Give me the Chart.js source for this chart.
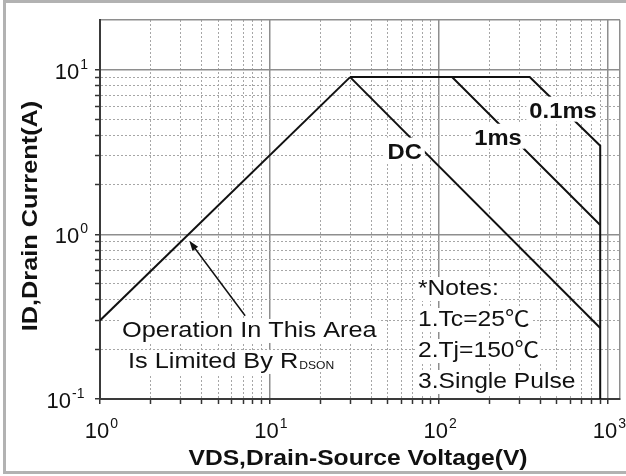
<!DOCTYPE html>
<html>
<head>
<meta charset="utf-8">
<script src="https://cdn.jsdelivr.net/npm/chart.js@4/dist/chart.umd.min.js"></script>
<style>
  html, body { margin: 0; padding: 0; background: #fff; }
  #wrap { position: relative; width: 626px; height: 476px; }
  #frame {
    position: absolute; left: 3px; top: 0; width: 623px; height: 474px; box-sizing: border-box;
    border-top: 3px solid #b2b2b2; border-left: 3px solid #b2b2b2; border-bottom: 3px solid #b2b2b2;
  }
  canvas { position: absolute; left: 0; top: 0; }
</style>
</head>
<body>
<div id="wrap">
  <div id="frame"></div>
  <canvas id="soa" width="626" height="476"></canvas>
</div>
<script>
// safe operating area, log-log; VDS in V, ID in A
const rdsonVds = [1, 30];
const rdsonId = [0.3, 9];
const dcVds = [30, 900];
const dcId = [9, 0.27];
const ms1Vds = [30, 120, 900];
const ms1Id = [9, 9, 1.14];
const ms01Vds = [30, 345, 900, 900];
const ms01Id = [9, 9, 3.45, 0.1];

const xRange = [1, 1178];
const yRange = [0.1, 20];
const xTickExps = [0, 1, 2, 3];
const yTickExps = [-1, 0, 1];

const curveLabels = [
  { text: "DC", vds: 63, id: 3.22 },
  { text: "1ms", vds: 224, id: 3.91 },
  { text: "0.1ms", vds: 543, id: 5.71 },
];
const areaNote = ["Operation In This Area", "Is Limited By R"];
const areaNoteSub = "DSON";
const areaNoteAt = { vds: 1.35, id: 0.238 };
const arrowTail = { vds: 7.2, id: 0.32 };
const arrowHead = { vds: 3.37, id: 0.913 };
const notes = ["*Notes:", "1.Tc=25\u2103", "2.Tj=150\u2103", "3.Single Pulse"];
const notesAt = { vds: 75.5, id: 0.428 };

const FONT = "'Liberation Sans', Arial, 'Noto Sans CJK SC', sans-serif";
const pts = (xs, ys) => xs.map((v, i) => ({ x: v, y: ys[i] }));
const isDecade = (v) => Math.abs(Math.log10(v) - Math.round(Math.log10(v))) < 1e-9;
const isMajor = (c) => c.tick && (isDecade(c.tick.value) || c.tick.value === c.scale.max);

function keepWholeTicks(scale) {
  scale.ticks = scale.ticks.filter((t) => {
    const m = t.value / Math.pow(10, Math.floor(Math.log10(t.value) + 1e-9));
    return Math.abs(m - Math.round(m)) < 1e-6 || t.value === scale.max;
  });
}

function text(ctx, str, x, y, opt) {
  ctx.font = opt.font;
  const sx = opt.sx || 1;
  const w = ctx.measureText(str).width * sx;
  const left = opt.align === "center" ? x - w / 2 : opt.align === "right" ? x - w : x;
  if (opt.box) {
    ctx.fillStyle = "#fff";
    ctx.fillRect(left - opt.box[0], y - opt.box[1], w + 2 * opt.box[0], opt.box[1] + opt.box[2]);
  }
  ctx.save();
  ctx.translate(left, y);
  ctx.scale(sx, 1);
  ctx.fillStyle = "#111";
  ctx.textAlign = "left";
  ctx.textBaseline = "alphabetic";
  ctx.fillText(str, 0, 0);
  ctx.restore();
  return w;
}

function powerLabel(ctx, exp, x, y, align) {
  const base = "22px " + FONT, sup = "14px " + FONT;
  ctx.font = base;
  const w1 = ctx.measureText("10").width;
  ctx.font = sup;
  const w2 = ctx.measureText(String(exp).replace("-", "\u2212")).width;
  const left = align === "center" ? x - (w1 + w2) / 2 : x - (w1 + w2);
  text(ctx, "10", left, y, { font: base });
  text(ctx, String(exp).replace("-", "-"), left + w1 + 1, y - 10, { font: sup });
}

const annotate = {
  id: "annotate",
  afterDatasetsDraw(chart) {
    const { ctx, scales: { x, y } } = chart;
    ctx.save();

    curveLabels.forEach((l) => {
      text(ctx, l.text, x.getPixelForValue(l.vds), y.getPixelForValue(l.id) + 8,
        { font: "bold 22px " + FONT, sx: 1.08, align: "center", box: [3, 21, 4] });
    });

    // arrow to the RDS(on) limit line
    const tx = x.getPixelForValue(arrowTail.vds), ty = y.getPixelForValue(arrowTail.id);
    const hx = x.getPixelForValue(arrowHead.vds), hy = y.getPixelForValue(arrowHead.id);
    const a = Math.atan2(hy - ty, hx - tx);
    ctx.strokeStyle = "#111";
    ctx.lineWidth = 1.5;
    ctx.beginPath();
    ctx.moveTo(tx, ty);
    ctx.lineTo(hx - 8 * Math.cos(a), hy - 8 * Math.sin(a));
    ctx.stroke();
    ctx.fillStyle = "#111";
    ctx.beginPath();
    ctx.moveTo(hx, hy);
    ctx.lineTo(hx - 10 * Math.cos(a) + 3.5 * Math.sin(a), hy - 10 * Math.sin(a) - 3.5 * Math.cos(a));
    ctx.lineTo(hx - 10 * Math.cos(a) - 3.5 * Math.sin(a), hy - 10 * Math.sin(a) + 3.5 * Math.cos(a));
    ctx.closePath();
    ctx.fill();

    const ax = x.getPixelForValue(areaNoteAt.vds), ay = y.getPixelForValue(areaNoteAt.id);
    text(ctx, areaNote[0], ax, ay, { font: "22px " + FONT, sx: 1.15, box: [2, 18, 6] });
    const w = text(ctx, areaNote[1], ax + 6, ay + 31, { font: "22px " + FONT, sx: 1.15, box: [2, 18, 6] });
    text(ctx, areaNoteSub, ax + 6 + w + 1, ay + 32, { font: "11px " + FONT, sx: 1.1, box: [1, 9, 2] });

    const nx = x.getPixelForValue(notesAt.vds), ny = y.getPixelForValue(notesAt.id);
    notes.forEach((n, i) => {
      text(ctx, n, nx, ny + i * 31, { font: "22px " + FONT, sx: 1.12, box: [2, 18, 6] });
    });

    ctx.restore();
  },
  afterDraw(chart) {
    const { ctx, scales: { x, y } } = chart;
    ctx.save();
    xTickExps.forEach((e) => powerLabel(ctx, e, x.getPixelForValue(Math.pow(10, e)) + 1, 438, "center"));
    yTickExps.forEach((e) => powerLabel(ctx, e, 87, y.getPixelForValue(Math.pow(10, e)) + 9, "right"));

    text(ctx, "VDS,Drain-Source Voltage(V)", (x.left + x.right) / 2 - 2, 465,
      { font: "bold 22px " + FONT, sx: 1.12, align: "center" });
    ctx.translate(37, 216);
    ctx.rotate(-Math.PI / 2);
    text(ctx, "ID,Drain Current(A)", 0, 0, { font: "bold 22px " + FONT, sx: 1.15, align: "center" });
    ctx.restore();
  },
};

const line = (data) => ({
  data, borderColor: "#111", borderWidth: 2, pointRadius: 0, tension: 0, borderJoinStyle: "miter",
});

const axis = (range, afterFit) => ({
  type: "logarithmic",
  min: range[0],
  max: range[1],
  afterBuildTicks: keepWholeTicks,
  afterFit,
  ticks: { callback: () => "", autoSkip: false },
  grid: {
    color: (c) => (isMajor(c) ? "#8e8e8e" : "#a6a6a6"),
    lineWidth: (c) => (isMajor(c) ? 1.5 : 1),
    tickLength: 5,
    tickWidth: 1.5,
    tickColor: (c) => (c.tick && c.tick.value === c.scale.max ? "rgba(0,0,0,0)" : "#333"),
  },
  border: { color: "#3a3a3a", width: 2, dash: (c) => (c.tick && !isMajor(c) ? [2, 2] : []) },
});

new Chart(document.getElementById("soa"), {
  type: "line",
  data: {
    datasets: [
      line(pts(rdsonVds, rdsonId)),
      line(pts(dcVds, dcId)),
      line(pts(ms1Vds, ms1Id)),
      line(pts(ms01Vds, ms01Id)),
    ],
  },
  options: {
    responsive: false,
    animation: false,
    layout: { padding: { top: 20, right: 6, left: 0, bottom: 0 } },
    plugins: { legend: { display: false }, tooltip: { enabled: false } },
    scales: {
      x: axis(xRange, (s) => { s.height = 77; }),
      y: axis(yRange, (s) => { s.width = 100; }),
    },
  },
  plugins: [annotate],
});
</script>
</body>
</html>
